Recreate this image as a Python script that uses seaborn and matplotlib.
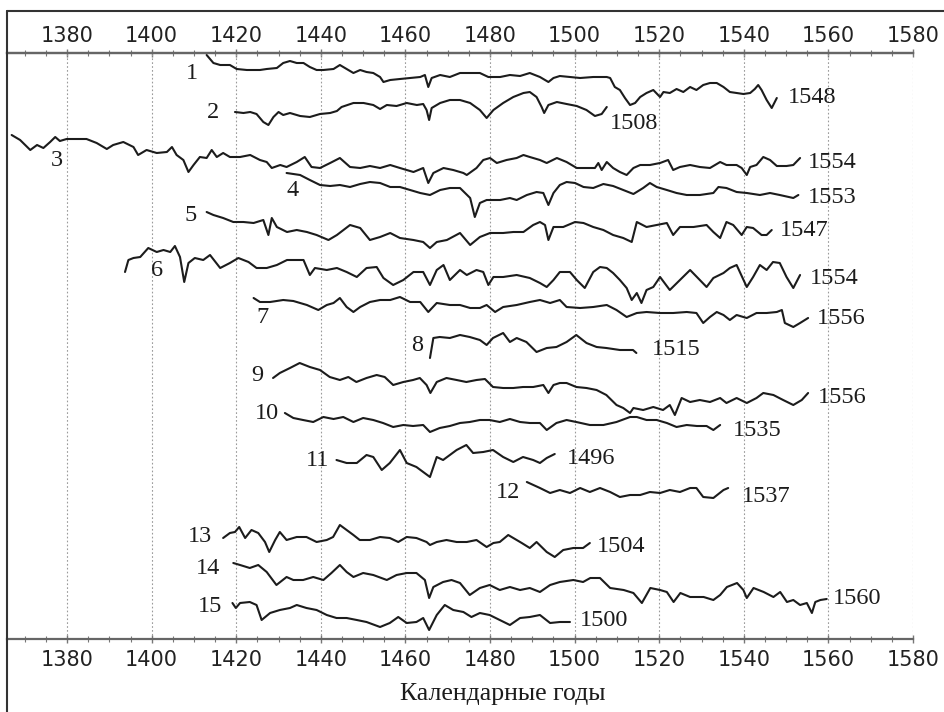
import numpy as np
import pandas as pd
import matplotlib
matplotlib.use("Agg")
import matplotlib.pyplot as plt
from matplotlib.lines import Line2D
from matplotlib.ticker import FixedLocator
import seaborn as sns

# each series: (calendar year, vertical level; 0 = top axis, grows downward)
s1 = [(1413.0, 2), (1414.6, 10), (1416.2, 12), (1418.5, 12), (1420.1, 16), (1422.5, 17), (1425.6, 17), (1427.2, 16),
      (1429.6, 15), (1431.1, 10), (1432.7, 8), (1434.3, 10), (1435.9, 10), (1437.4, 14), (1439.0, 17), (1440.6, 17),
      (1443.0, 16), (1444.5, 12), (1446.1, 16), (1447.7, 20), (1449.3, 17), (1450.8, 19), (1452.4, 20), (1454.0, 24),
      (1454.8, 29), (1456.4, 27), (1458.7, 26), (1461.1, 25), (1463.5, 24), (1464.6, 22), (1465.4, 34), (1466.2, 25),
      (1468.2, 22), (1470.5, 24), (1472.9, 20), (1475.3, 20), (1477.6, 20), (1479.6, 24), (1482.4, 24), (1484.7, 22),
      (1487.1, 23), (1489.4, 20), (1491.8, 24), (1493.8, 29), (1495.0, 25), (1496.5, 23), (1498.9, 24), (1501.3, 25),
      (1504.4, 24), (1507.6, 24), (1508.4, 25), (1509.5, 34), (1510.7, 37), (1511.9, 45), (1513.1, 52), (1514.3, 50),
      (1515.5, 44), (1517.0, 40), (1518.6, 37), (1520.2, 44), (1521.0, 39), (1522.5, 40), (1524.1, 36), (1525.7, 39),
      (1527.3, 34), (1528.8, 37), (1530.4, 32), (1532.0, 30), (1533.6, 30), (1535.2, 34), (1536.7, 39), (1538.3, 40),
      (1539.9, 41), (1541.5, 40), (1542.6, 36), (1543.4, 32), (1544.2, 37), (1545.4, 47), (1546.6, 55), (1547.8, 45)]
s2 = [(1419.7, 59), (1421.7, 60), (1423.3, 59), (1424.8, 61), (1426.4, 69), (1427.6, 72), (1428.8, 64), (1430.0, 59),
      (1431.1, 62), (1432.7, 60), (1435.1, 63), (1437.4, 64), (1439.8, 61), (1442.2, 60), (1443.8, 58), (1444.9, 54),
      (1447.7, 50), (1450.1, 50), (1452.4, 52), (1454.0, 56), (1455.6, 52), (1457.9, 53), (1460.3, 50), (1462.7, 52),
      (1464.2, 51), (1465.0, 57), (1465.6, 67), (1466.2, 55), (1468.2, 50), (1470.5, 47), (1472.9, 47), (1475.3, 50),
      (1477.6, 57), (1479.2, 65), (1480.8, 57), (1483.1, 50), (1485.5, 44), (1487.9, 40), (1489.4, 39), (1491.0, 44),
      (1492.2, 54), (1492.8, 60), (1493.8, 52), (1495.8, 49), (1498.1, 51), (1500.5, 53), (1502.8, 57), (1504.8, 63),
      (1506.4, 61), (1507.6, 54)]
s3 = [(1366.9, 82), (1368.9, 87), (1371.3, 97), (1372.9, 92), (1374.4, 95), (1376.0, 89), (1377.2, 84), (1378.3, 88),
      (1379.9, 86), (1382.3, 86), (1384.6, 86), (1387.0, 90), (1389.4, 96), (1390.9, 92), (1393.3, 89), (1395.7, 94),
      (1396.8, 102), (1398.8, 97), (1401.2, 100), (1403.6, 99), (1404.8, 94), (1405.9, 102), (1407.5, 107), (1408.7, 119),
      (1409.9, 112), (1411.4, 104), (1413.0, 105), (1414.2, 97), (1415.4, 104), (1416.9, 100), (1418.5, 104), (1420.9, 104),
      (1423.3, 102), (1425.6, 107), (1427.2, 109), (1428.4, 115), (1430.4, 112), (1431.9, 114), (1434.3, 109), (1436.2, 104),
      (1437.8, 114), (1439.8, 115), (1442.2, 110), (1444.5, 105), (1446.9, 114), (1449.3, 115), (1451.6, 113), (1454.0, 115),
      (1456.4, 112), (1458.7, 115), (1461.9, 119), (1464.2, 115), (1465.4, 130), (1466.6, 120), (1469.0, 115), (1471.3, 117),
      (1473.7, 120), (1474.5, 122), (1476.8, 115), (1478.4, 107), (1480.0, 105), (1481.6, 110), (1483.9, 107), (1486.3, 105),
      (1487.9, 102), (1489.4, 104), (1491.8, 107), (1493.4, 110), (1495.8, 105), (1498.1, 109), (1500.5, 115), (1502.8, 115),
      (1504.8, 115), (1505.6, 110), (1506.4, 117), (1507.6, 109), (1509.1, 115), (1510.7, 119), (1512.3, 122), (1513.9, 115),
      (1515.5, 112), (1517.8, 112), (1520.2, 110), (1522.1, 107), (1523.3, 117), (1524.9, 114), (1527.3, 112), (1529.6, 114),
      (1532.0, 115), (1534.4, 109), (1535.9, 112), (1538.3, 112), (1539.5, 115), (1540.7, 122), (1541.5, 114), (1543.0, 112),
      (1544.6, 104), (1546.2, 107), (1547.8, 113), (1550.1, 113), (1551.7, 112), (1553.3, 105)]
s4 = [(1431.9, 120), (1435.1, 122), (1437.4, 127), (1439.8, 132), (1442.2, 133), (1444.5, 132), (1446.9, 134), (1449.3, 131),
      (1451.6, 129), (1454.0, 130), (1456.4, 134), (1458.7, 134), (1461.1, 137), (1463.5, 140), (1465.8, 142), (1468.2, 137),
      (1470.5, 135), (1472.9, 135), (1475.3, 145), (1476.4, 164), (1477.6, 150), (1479.2, 147), (1482.4, 147), (1484.7, 145),
      (1486.3, 147), (1488.7, 142), (1491.0, 139), (1492.6, 140), (1493.8, 152), (1495.0, 140), (1496.5, 132), (1498.1, 129),
      (1500.1, 130), (1502.1, 134), (1504.4, 135), (1506.8, 131), (1509.1, 133), (1511.5, 137), (1513.9, 141), (1516.2, 135),
      (1517.8, 130), (1519.4, 134), (1521.8, 137), (1524.1, 140), (1526.5, 142), (1529.6, 142), (1532.8, 140), (1534.0, 134),
      (1535.9, 135), (1538.3, 139), (1540.7, 140), (1543.8, 142), (1546.2, 140), (1548.5, 142), (1551.7, 145), (1552.9, 142)]
s5 = [(1413.0, 159), (1414.6, 162), (1416.9, 165), (1419.3, 169), (1421.7, 169), (1424.1, 170), (1426.4, 167), (1427.6, 182),
      (1428.4, 165), (1429.6, 174), (1432.0, 179), (1434.3, 177), (1436.7, 179), (1439.0, 182), (1441.8, 187), (1443.8, 182),
      (1446.9, 172), (1449.3, 175), (1451.6, 187), (1454.0, 184), (1456.4, 180), (1458.7, 185), (1461.9, 187), (1464.2, 189),
      (1465.8, 195), (1467.4, 189), (1469.8, 187), (1472.9, 180), (1475.3, 192), (1477.6, 184), (1480.0, 180), (1483.1, 180),
      (1485.5, 179), (1487.9, 179), (1490.2, 172), (1491.8, 169), (1493.0, 172), (1493.8, 187), (1495.0, 174), (1497.3, 174),
      (1500.1, 169), (1502.1, 170), (1504.4, 174), (1506.8, 177), (1509.1, 182), (1511.5, 185), (1513.5, 189), (1514.7, 169),
      (1517.0, 174), (1519.4, 172), (1521.8, 170), (1523.3, 182), (1524.9, 174), (1528.1, 174), (1531.2, 172), (1532.8, 179),
      (1534.4, 185), (1535.9, 169), (1537.5, 172), (1539.5, 182), (1540.7, 174), (1542.2, 175), (1544.2, 182), (1545.4, 182),
      (1546.6, 177)]
s6 = [(1393.7, 219), (1394.5, 207), (1395.7, 205), (1397.3, 204), (1399.2, 195), (1401.2, 199), (1402.8, 197), (1404.4, 199),
      (1405.5, 193), (1406.7, 204), (1407.7, 229), (1408.7, 210), (1410.2, 205), (1412.2, 207), (1413.8, 202), (1416.2, 215),
      (1418.5, 210), (1420.5, 205), (1422.9, 209), (1424.8, 215), (1427.2, 215), (1429.6, 212), (1432.0, 207), (1434.3, 207),
      (1435.9, 207), (1437.4, 222), (1438.6, 215), (1441.4, 217), (1443.8, 215), (1446.1, 219), (1448.5, 224), (1450.8, 215),
      (1453.2, 214), (1454.8, 225), (1457.1, 232), (1459.5, 227), (1461.9, 219), (1464.2, 219), (1465.8, 232), (1467.4, 217),
      (1469.0, 212), (1470.5, 227), (1472.9, 217), (1474.5, 222), (1476.8, 217), (1478.4, 219), (1479.6, 232), (1480.8, 224),
      (1483.1, 224), (1486.3, 222), (1489.4, 225), (1491.8, 230), (1493.4, 234), (1495.0, 227), (1496.5, 219), (1498.9, 219),
      (1500.5, 227), (1502.4, 235), (1504.4, 219), (1506.0, 214), (1507.6, 215), (1509.1, 220), (1510.7, 227), (1512.3, 235),
      (1513.5, 247), (1514.7, 240), (1515.8, 250), (1517.0, 237), (1518.6, 234), (1520.2, 224), (1522.5, 237), (1524.9, 227),
      (1527.3, 217), (1529.6, 227), (1531.2, 234), (1532.8, 225), (1535.2, 220), (1536.7, 215), (1538.3, 212), (1540.7, 234),
      (1542.2, 224), (1543.8, 212), (1545.4, 217), (1546.9, 209), (1548.5, 210), (1550.1, 224), (1551.7, 235), (1553.3, 222)]
s7 = [(1424.1, 245), (1425.6, 249), (1428.0, 249), (1431.1, 247), (1433.5, 248), (1436.7, 252), (1439.4, 257), (1441.4, 252),
      (1443.0, 250), (1444.5, 245), (1446.1, 254), (1447.7, 259), (1449.3, 254), (1451.6, 249), (1454.0, 247), (1456.4, 247),
      (1458.7, 244), (1461.1, 249), (1463.5, 249), (1465.4, 259), (1467.4, 250), (1470.5, 252), (1472.9, 252), (1475.3, 255),
      (1477.6, 255), (1479.2, 252), (1481.2, 259), (1483.1, 254), (1486.3, 252), (1489.4, 249), (1491.8, 247), (1494.2, 250),
      (1496.5, 247), (1498.1, 254), (1501.3, 255), (1504.4, 254), (1507.6, 252), (1509.9, 257), (1512.3, 264), (1514.7, 260),
      (1517.0, 259), (1520.2, 260), (1523.3, 260), (1526.5, 259), (1528.8, 260), (1530.4, 270), (1532.0, 264), (1533.6, 259),
      (1535.2, 262), (1536.7, 267), (1538.3, 262), (1540.7, 265), (1543.0, 260), (1545.4, 260), (1547.8, 259), (1549.0, 257),
      (1549.7, 270), (1551.7, 274), (1553.3, 270), (1555.2, 265)]
s8 = [(1465.8, 305), (1466.6, 285), (1468.1, 284), (1470.5, 285), (1472.9, 282), (1475.2, 284), (1477.6, 287), (1479.2, 292),
      (1480.7, 285), (1483.1, 280), (1484.7, 289), (1486.3, 285), (1488.6, 289), (1491.0, 299), (1493.4, 295), (1495.7, 294),
      (1498.1, 289), (1500.4, 282), (1502.8, 290), (1505.2, 294), (1507.5, 295), (1510.7, 297), (1513.8, 297), (1514.6, 300)]
s9 = [(1428.7, 325), (1430.3, 320), (1432.7, 315), (1435.0, 310), (1437.4, 314), (1439.8, 317), (1442.1, 324), (1444.5, 327),
      (1446.5, 324), (1448.4, 329), (1450.8, 325), (1453.2, 322), (1455.1, 324), (1457.1, 332), (1459.5, 329), (1461.8, 327),
      (1463.4, 325), (1465.0, 332), (1465.9, 340), (1467.4, 329), (1469.7, 325), (1472.1, 327), (1474.4, 329), (1476.8, 327),
      (1478.8, 326), (1480.7, 334), (1483.1, 335), (1485.5, 335), (1487.8, 334), (1490.2, 334), (1492.6, 332), (1493.8, 340),
      (1495.0, 332), (1496.5, 330), (1498.1, 330), (1500.4, 334), (1502.8, 335), (1505.2, 337), (1507.5, 342), (1509.9, 352),
      (1511.5, 355), (1513.1, 360), (1513.9, 355), (1516.2, 357), (1518.6, 354), (1520.9, 357), (1522.5, 352), (1523.7, 362),
      (1525.3, 345), (1527.3, 349), (1529.6, 347), (1532.0, 349), (1534.4, 345), (1535.9, 350), (1538.3, 345), (1540.7, 350),
      (1543.0, 345), (1544.6, 340), (1547.0, 342), (1549.3, 347), (1551.7, 352), (1553.7, 347), (1555.2, 340)]
s10 = [(1431.5, 360), (1433.5, 365), (1435.8, 367), (1438.2, 369), (1440.6, 364), (1443.0, 366), (1445.3, 364), (1447.7, 369),
       (1450.0, 365), (1452.4, 367), (1454.7, 370), (1457.1, 374), (1459.5, 372), (1461.8, 373), (1464.2, 372), (1465.8, 379),
       (1468.1, 375), (1470.5, 373), (1472.9, 370), (1475.2, 369), (1477.6, 367), (1479.9, 367), (1482.3, 369), (1484.7, 366),
       (1487.1, 369), (1489.4, 370), (1491.8, 370), (1493.4, 377), (1495.7, 370), (1498.1, 367), (1500.4, 369), (1503.6, 372),
       (1506.8, 372), (1509.9, 369), (1513.1, 364), (1514.7, 364), (1517.0, 367), (1519.4, 367), (1521.8, 370), (1524.1, 374),
       (1526.5, 372), (1528.9, 373), (1531.2, 373), (1532.8, 377), (1534.4, 372)]
s11 = [(1443.7, 407), (1446.1, 410), (1448.5, 410), (1450.8, 402), (1452.4, 404), (1454.4, 417), (1456.3, 410), (1458.7, 397),
       (1460.3, 410), (1462.6, 414), (1465.8, 424), (1467.4, 404), (1468.9, 407), (1470.5, 402), (1472.1, 397), (1474.4, 392),
       (1476.0, 400), (1478.4, 399), (1480.7, 397), (1483.1, 404), (1485.5, 409), (1487.8, 404), (1490.2, 407), (1491.8, 410),
       (1493.4, 405), (1495.3, 401)]
s12 = [(1488.7, 429), (1491.8, 435), (1494.2, 440), (1496.5, 437), (1498.9, 440), (1501.3, 435), (1503.6, 439), (1506.0, 435),
       (1508.4, 439), (1510.7, 444), (1513.1, 442), (1515.5, 442), (1517.8, 439), (1520.2, 440), (1522.5, 437), (1524.9, 439),
       (1527.3, 435), (1528.8, 435), (1530.4, 444), (1532.8, 445), (1535.2, 437), (1536.3, 435)]
s13 = [(1416.9, 485), (1418.5, 480), (1419.7, 479), (1420.7, 474), (1422.1, 485), (1423.6, 477), (1425.2, 480), (1426.8, 489),
       (1427.8, 499), (1429.2, 487), (1430.3, 479), (1431.9, 487), (1434.3, 484), (1436.6, 484), (1439.0, 489), (1441.4, 487),
       (1442.9, 484), (1444.5, 472), (1446.1, 477), (1447.7, 482), (1449.2, 487), (1451.6, 487), (1454.0, 484), (1456.3, 485),
       (1458.3, 489), (1460.3, 484), (1462.6, 485), (1465.0, 489), (1465.8, 492), (1467.4, 489), (1469.7, 487), (1472.1, 489),
       (1474.5, 489), (1476.8, 487), (1479.2, 494), (1480.8, 490), (1482.3, 489), (1484.3, 482), (1485.5, 485), (1487.5, 490),
       (1489.4, 495), (1491.0, 489), (1493.4, 499), (1495.3, 504), (1497.3, 497), (1499.7, 495), (1502.0, 495), (1503.6, 490)]
s14 = [(1419.3, 510), (1420.9, 512), (1423.2, 515), (1425.2, 512), (1427.2, 519), (1429.5, 532), (1431.9, 524), (1433.5, 527),
       (1435.8, 527), (1438.2, 524), (1440.6, 527), (1442.5, 520), (1444.5, 512), (1446.1, 519), (1447.7, 524), (1450.0, 520),
       (1452.4, 522), (1455.6, 527), (1457.9, 522), (1460.3, 520), (1462.6, 520), (1464.6, 527), (1465.6, 545), (1466.6, 534),
       (1468.9, 529), (1470.9, 527), (1472.9, 530), (1475.2, 542), (1477.6, 535), (1479.9, 532), (1482.3, 537), (1484.7, 534),
       (1487.1, 537), (1489.4, 535), (1491.8, 539), (1494.2, 532), (1496.5, 529), (1499.7, 527), (1502.0, 529), (1503.7, 525),
       (1506.0, 525), (1508.4, 535), (1511.6, 537), (1513.9, 540), (1515.9, 550), (1517.9, 535), (1520.2, 537), (1521.8, 539),
       (1523.4, 549), (1525.0, 540), (1527.3, 544), (1530.5, 544), (1532.8, 547), (1534.4, 542), (1536.0, 534), (1538.4, 530),
       (1539.9, 537), (1540.7, 545), (1542.3, 535), (1544.7, 539), (1547.0, 544), (1548.6, 539), (1550.2, 549), (1551.7, 547),
       (1553.3, 552), (1554.9, 550), (1556.1, 560), (1556.9, 549), (1558.1, 547), (1559.6, 546)]
s15 = [(1419.1, 550), (1419.9, 555), (1420.9, 550), (1423.2, 549), (1424.8, 552), (1426.0, 567), (1428.0, 560), (1430.3, 557),
       (1432.7, 555), (1434.3, 552), (1436.6, 555), (1439.0, 557), (1441.4, 562), (1443.7, 565), (1446.1, 565), (1448.5, 567),
       (1450.8, 569), (1454.0, 574), (1456.3, 570), (1458.3, 564), (1460.3, 570), (1462.6, 569), (1464.2, 565), (1465.6, 577),
       (1467.4, 562), (1469.3, 552), (1471.3, 557), (1473.7, 559), (1475.6, 564), (1477.6, 560), (1479.9, 562), (1482.3, 567),
       (1484.7, 572), (1487.1, 565), (1489.4, 564), (1491.8, 562), (1494.2, 570), (1496.5, 569), (1498.9, 569)]

series = [s1, s2, s3, s4, s5, s6, s7, s8, s9, s10, s11, s12, s13, s14, s15]

# sample numbers at the start of each curve, end years at the end
start_labels = ["1", "2", "3", "4", "5", "6", "7", "8", "9", "10", "11", "12", "13", "14", "15"]
start_label_xy = [(1409.6, 20), (1414.5, 59), (1377.6, 107), (1433.2, 137), (1409.1, 162), (1401.3, 217),
                  (1426.3, 264), (1462.7, 292), (1424.9, 322), (1427.3, 360), (1439.3, 407), (1484.3, 440),
                  (1411.4, 484), (1413.3, 515), (1413.8, 553)]
end_labels = ["1548", "1508", "1554", "1553", "1547", "1554", "1556", "1515", "1556", "1535", "1496", "1537",
              "1504", "1560", "1500"]
end_label_xy = [(1556.1, 44), (1514.0, 70), (1560.9, 109), (1560.9, 144), (1554.2, 177), (1561.3, 225),
                (1563.0, 265), (1524.0, 296), (1563.2, 344), (1543.1, 377), (1503.9, 405), (1545.2, 444),
                (1511.0, 494), (1566.8, 545), (1507.0, 567)]

year_ticks = [1380, 1400, 1420, 1440, 1460, 1480, 1500, 1520, 1540, 1560, 1580]
minor_ticks = [y + d for y in year_ticks[:-1] for d in (5, 10, 15)] + [1370, 1375]

sns.set_style("white")
plt.rcParams['font.family'] = ['DejaVu Sans']

fig = plt.figure(figsize=(9.44, 7.12), dpi=100)
ax = fig.add_axes([7 / 944, 1 - 639 / 712, 906 / 944, 586 / 712])

for pts in series:
    df = pd.DataFrame(pts, columns=["year", "level"])
    sns.lineplot(data=df, x="year", y="level", ax=ax, color="#1c1c1c", linewidth=1.5,
                 sort=False, estimator=None)

serif = ['Liberation Serif', 'DejaVu Serif']
for txt, (x, y) in zip(start_labels, start_label_xy):
    ax.text(x, y, txt, ha="center", va="center", family=serif, fontsize=17.5, color="#1c1c1c")
for txt, (x, y) in zip(end_labels, end_label_xy):
    ax.text(x, y, txt, ha="center", va="center", family=serif, fontsize=17.5, color="#1c1c1c")

ax.set_xlim(1365.8, 1580)
ax.set_ylim(586, 0)
ax.set_yticks([])
ax.set_xlabel("")
ax.set_ylabel("")
ax.xaxis.set_major_locator(FixedLocator(year_ticks))
ax.xaxis.set_minor_locator(FixedLocator(minor_ticks))
ax.tick_params(axis="x", which="both", top=False, bottom=True, labeltop=False, labelbottom=True,
               direction="inout", color="#777777", labelsize=15, labelcolor="#222222", pad=5)
ax.tick_params(axis="x", which="major", length=6, width=1)
ax.tick_params(axis="x", which="minor", length=4, width=0.8)
ax.grid(axis="x", which="major", linestyle=(0, (1.5, 2)), color="#9a9a9a", linewidth=0.8)
for side in ["left", "right"]:
    ax.spines[side].set_visible(False)
for side in ["top", "bottom"]:
    ax.spines[side].set_color("#666666")
    ax.spines[side].set_linewidth(1.6)

# the same year scale along the top edge
top = ax.secondary_xaxis("top")
top.xaxis.set_major_locator(FixedLocator(year_ticks))
top.xaxis.set_minor_locator(FixedLocator(minor_ticks))
top.tick_params(axis="x", which="both", direction="inout", color="#777777", labelsize=15,
                labelcolor="#222222", pad=2)
top.tick_params(axis="x", which="major", length=6, width=1)
top.tick_params(axis="x", which="minor", length=4, width=0.8)
top.spines["top"].set_color("#666666")
top.spines["top"].set_linewidth(1.6)

fig.text(503 / 944, 1 - 694 / 712, "Календарные годы", ha="center", va="center",
         family=serif, fontsize=18.5, color="#1c1c1c")

# outer frame of the picture (left and top edges)
fx, fy = 7 / 944, 1 - 11 / 712
fig.add_artist(Line2D([fx, fx], [0, fy], color="#333333", linewidth=1.5))
fig.add_artist(Line2D([fx, 1], [fy, fy], color="#333333", linewidth=1.5))

fig.savefig("out.png", dpi=100)
